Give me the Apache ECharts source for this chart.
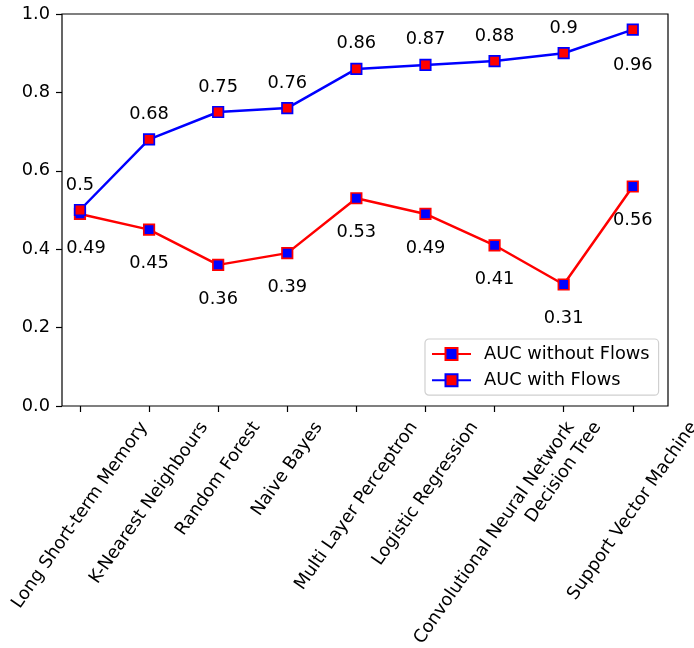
<!DOCTYPE html>
<html>
<head>
<meta charset="utf-8">
<script src="https://cdn.jsdelivr.net/npm/echarts@6/dist/echarts.min.js"></script>
<style>html,body{margin:0;padding:0;background:#fff}#c{width:694px;height:648px}</style>
</head>
<body>
<div id="c"></div>
<script>
const categories = ['Long Short-term Memory', 'K-Nearest Neighbours', 'Random Forest', 'Naive Bayes',
  'Multi Layer Perceptron', 'Logistic Regression', 'Convolutional Neural Network', 'Decision Tree',
  'Support Vector Machine'];
const aucWithout = [0.49, 0.45, 0.36, 0.39, 0.53, 0.49, 0.41, 0.31, 0.56];
const aucWith = [0.50, 0.68, 0.75, 0.76, 0.86, 0.87, 0.88, 0.90, 0.96];
const yTicks = [0, 0.2, 0.4, 0.6, 0.8, 1.0];
const seriesNames = ['AUC without Flows', 'AUC with Flows'];

const FONT = 'DejaVu Sans';
const FS = 17.8;
const ROT = 55;
const th = ROT * Math.PI / 180, s = Math.sin(th), c = Math.cos(th);
const lineH = 1.164 * FS;

// measure label widths to emulate matplotlib's centred rotated tick labels
const cv = document.createElement('canvas').getContext('2d');
cv.font = FS + 'px "' + FONT + '"';
const rich = {};
categories.forEach((name, i) => {
  const L = cv.measureText(name).width;
  const D = (L * s + lineH * c) / 2;
  rich['t' + i] = {
    fontFamily: FONT, fontSize: FS, color: '#000',
    padding: [2 * D * c, 2 * D * s, 0, 0]
  };
});

const idx = categories.map((_, i) => i);

const redData = aucWithout.map((v, i) => i === 0
  ? { value: [i, v], label: { offset: [6, 0] } }
  : [i, v]);
const blueData = aucWith.map((v, i) => i === aucWith.length - 1
  ? { value: [i, v], label: { position: 'bottom', distance: 21 } }
  : [i, v]);

const chart = echarts.init(document.getElementById('c'), null, { renderer: 'canvas' });
chart.setOption({
  animation: false,
  backgroundColor: '#fff',
  textStyle: { fontFamily: FONT },
  grid: {
    left: 62, right: 26, top: 14, bottom: 242,
    show: true, borderColor: '#000', borderWidth: 1.2, backgroundColor: 'transparent',
    outerBoundsMode: 'none', containLabel: false
  },
  xAxis: {
    type: 'value', min: -0.26, max: 8.51,
    axisLine: { show: false, onZero: false },
    splitLine: { show: false },
    axisTick: { show: true, customValues: idx, length: 6, lineStyle: { color: '#000', width: 1.2 } },
    axisLabel: {
      show: true, customValues: idx, rotate: ROT, margin: 12,
      align: 'center', verticalAlign: 'middle',
      fontFamily: FONT, fontSize: FS, color: '#000',
      formatter: v => { const i = Math.round(v); return '{t' + i + '|' + categories[i] + '}'; },
      rich: rich
    }
  },
  yAxis: {
    type: 'value', min: 0, max: 1, interval: 0.2,
    axisLine: { show: false, onZero: false },
    splitLine: { show: false },
    axisTick: { show: true, length: 6, lineStyle: { color: '#000', width: 1.2 } },
    axisLabel: {
      margin: 12, fontFamily: FONT, fontSize: FS, color: '#000',
      formatter: v => (yTicks.find(t => Math.abs(t - v) < 1e-9) ?? v).toFixed(1)
    }
  },
  legend: {
    orient: 'vertical', left: 425, top: 339,
    padding: [6, 9, 6, 6],
    itemWidth: 39, itemHeight: 15, itemGap: 8.2,
    backgroundColor: '#fff', borderColor: '#d0d0d0', borderWidth: 1.2, borderRadius: 4,
    textStyle: { fontFamily: FONT, fontSize: FS, color: '#000', padding: [0, 0, 0, 8] },
    data: seriesNames
  },
  series: [
    {
      name: seriesNames[0], type: 'line', data: redData,
      symbol: 'rect', symbolSize: 10.5,
      lineStyle: { color: '#ff0000', width: 2.5 },
      itemStyle: { color: '#0000ff', borderColor: '#ff0000', borderWidth: 1.7 },
      label: { show: true, position: 'bottom', distance: 19, fontFamily: FONT, fontSize: FS, color: '#000' },
      emphasis: { disabled: true }, z: 2
    },
    {
      name: seriesNames[1], type: 'line', data: blueData,
      symbol: 'rect', symbolSize: 10.5,
      lineStyle: { color: '#0000ff', width: 2.5 },
      itemStyle: { color: '#ff0000', borderColor: '#0000ff', borderWidth: 1.7 },
      label: { show: true, position: 'top', distance: 10, fontFamily: FONT, fontSize: FS, color: '#000' },
      emphasis: { disabled: true }, z: 3
    }
  ]
});
</script>
</body>
</html>
